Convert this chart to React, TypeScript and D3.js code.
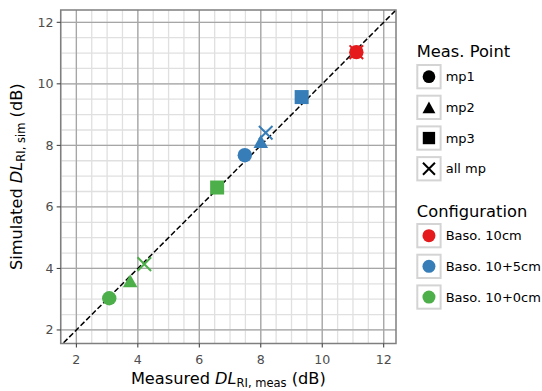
import React from "react";
import * as d3 from "d3";

const configNames = ["Baso. 10cm", "Baso. 10+5cm", "Baso. 10+0cm"];
const configColors = ["#e41a1c", "#377eb8", "#4daf4a"];
const measPointNames = ["mp1", "mp2", "mp3", "all mp"];
const measPointShapes = ["circle", "triangle", "square", "x"];

// points: config index, meas point index, measured, simulated
const pointConfig = [0, 0, 1, 1, 1, 1, 2, 2, 2, 2];
const pointMp = [3, 0, 3, 0, 1, 2, 3, 0, 1, 2];
const measuredVals = [11.11, 11.11, 8.16, 7.48, 8.0, 9.33, 4.21, 3.07, 3.75, 6.58];
const simulatedVals = [11.03, 11.03, 8.41, 7.68, 8.13, 9.57, 4.14, 3.03, 3.6, 6.63];

const xTicks = [2, 4, 6, 8, 10, 12];
const yTicks = [2, 4, 6, 8, 10, 12];
const minorBreaks = d3.range(1.5, 12.51, 0.5);

const W = 542;
const H = 391;
const panel = { left: 60.7, right: 396, top: 10, bottom: 343.5 };
const FONT = "DejaVu Sans, sans-serif";

function Marker({ shape, cx, cy, color, s = 1 }: any) {
  if (shape === "circle") return <circle cx={cx} cy={cy} r={7.2 * s} fill={color} />;
  if (shape === "square")
    return <rect x={cx - 7 * s} y={cy - 7 * s} width={14 * s} height={14 * s} fill={color} />;
  if (shape === "triangle") {
    const w = 7.3 * s, h = 6.6 * s;
    return <path d={`M${cx},${cy - h}L${cx + w},${cy + h}L${cx - w},${cy + h}Z`} fill={color} />;
  }
  const a = 6.8 * s;
  return (
    <path
      d={`M${cx - a},${cy - a}L${cx + a},${cy + a}M${cx - a},${cy + a}L${cx + a},${cy - a}`}
      stroke={color}
      strokeWidth={2}
      fill="none"
    />
  );
}

export default function App() {
  const x = d3.scaleLinear().domain([1.49, 12.4]).range([panel.left, panel.right]);
  const y = d3.scaleLinear().domain([1.56, 12.4]).range([panel.bottom, panel.top]);
  const idx = d3.range(measuredVals.length);
  const order = [...idx.filter((i) => pointMp[i] === 3), ...idx.filter((i) => pointMp[i] !== 3)];
  const diag = d3.line<number>()
    .x((d) => x(d))
    .y((d) => y(d));

  const legendX = 417.3;
  const keySize = 23.3;
  const mpTitleY = 56.7;
  const mpKeyY0 = 65;
  const cfgTitleY = 216.7;
  const cfgKeyY0 = 224;
  const keyStep = 30.7;

  return (
    <svg width={W} height={H} style={{ position: "absolute", left: 0, top: 0 }} fontFamily={FONT}>
      <rect width={W} height={H} fill="#fff" />
      <defs>
        <clipPath id="pclip">
          <rect x={panel.left} y={panel.top} width={panel.right - panel.left} height={panel.bottom - panel.top} />
        </clipPath>
      </defs>
      <g clipPath="url(#pclip)">
        {minorBreaks.map((v) => (
          <g key={"m" + v}>
            <line x1={x(v)} x2={x(v)} y1={panel.top} y2={panel.bottom} stroke="#e0e0e0" strokeWidth={1.3} />
            <line y1={y(v)} y2={y(v)} x1={panel.left} x2={panel.right} stroke="#e0e0e0" strokeWidth={1.3} />
          </g>
        ))}
        {xTicks.map((v) => (
          <line key={"gx" + v} x1={x(v)} x2={x(v)} y1={panel.top} y2={panel.bottom} stroke="#a6a6a6" strokeWidth={1.3} />
        ))}
        {yTicks.map((v) => (
          <line key={"gy" + v} y1={y(v)} y2={y(v)} x1={panel.left} x2={panel.right} stroke="#a6a6a6" strokeWidth={1.3} />
        ))}
        <path d={diag([1.4, 12.5]) || ""} stroke="#000" strokeWidth={1.5} strokeDasharray="5.5,2.5" fill="none" />
        {order.map((i) => (
          <Marker
            key={"p" + i}
            shape={measPointShapes[pointMp[i]]}
            cx={x(measuredVals[i])}
            cy={y(simulatedVals[i])}
            color={configColors[pointConfig[i]]}
          />
        ))}
      </g>
      <rect
        x={panel.left}
        y={panel.top}
        width={panel.right - panel.left}
        height={panel.bottom - panel.top}
        fill="none"
        stroke="#7f7f7f"
        strokeWidth={1.5}
      />
      {xTicks.map((v) => (
        <g key={"tx" + v}>
          <line x1={x(v)} x2={x(v)} y1={panel.bottom} y2={panel.bottom + 4} stroke="#333" strokeWidth={1} />
          <text x={x(v)} y={363.5} textAnchor="middle" fontSize={12.6} fill="#4d4d4d">
            {v}
          </text>
        </g>
      ))}
      {yTicks.map((v) => (
        <g key={"ty" + v}>
          <line x1={panel.left - 4} x2={panel.left} y1={y(v)} y2={y(v)} stroke="#333" strokeWidth={1} />
          <text x={53.5} y={y(v) + 4.5} textAnchor="end" fontSize={12.6} fill="#4d4d4d">
            {v}
          </text>
        </g>
      ))}
      <text x={(panel.left + panel.right) / 2} y={383.5} textAnchor="middle" fontSize={16.2} fill="#000">
        <tspan>Measured </tspan>
        <tspan fontStyle="italic">DL</tspan>
        <tspan fontSize={11.5} dy={3}>RI, meas</tspan>
        <tspan dy={-3}> (dB)</tspan>
      </text>
      <text
        transform={`translate(22,${(panel.top + panel.bottom) / 2}) rotate(-90)`}
        textAnchor="middle"
        fontSize={16.2}
        fill="#000"
      >
        <tspan>Simulated </tspan>
        <tspan fontStyle="italic">DL</tspan>
        <tspan fontSize={11.5} dy={3}>RI, sim</tspan>
        <tspan dy={-3}> (dB)</tspan>
      </text>

      <text x={legendX - 0.5} y={mpTitleY} fontSize={16.3} fill="#000">Meas. Point</text>
      {measPointNames.map((name, i) => {
        const ky = mpKeyY0 + i * keyStep;
        return (
          <g key={"lm" + i}>
            <rect x={legendX} y={ky} width={keySize} height={keySize} fill="#fff" stroke="#d4d4d4" strokeWidth={2} />
            <Marker shape={measPointShapes[i]} cx={legendX + keySize / 2} cy={ky + keySize / 2} color="#000" s={0.88} />
            <text x={445.7} y={ky + keySize / 2 + 4.5} fontSize={13} fill="#000">{name}</text>
          </g>
        );
      })}
      <text x={legendX - 0.5} y={cfgTitleY} fontSize={16.3} fill="#000">Configuration</text>
      {configNames.map((name, i) => {
        const ky = cfgKeyY0 + i * keyStep;
        return (
          <g key={"lc" + i}>
            <rect x={legendX} y={ky} width={keySize} height={keySize} fill="#fff" stroke="#d4d4d4" strokeWidth={2} />
            <circle cx={legendX + keySize / 2} cy={ky + keySize / 2} r={6.5} fill={configColors[i]} />
            <text x={445.7} y={ky + keySize / 2 + 4.5} fontSize={13} fill="#000">{name}</text>
          </g>
        );
      })}
    </svg>
  );
}
